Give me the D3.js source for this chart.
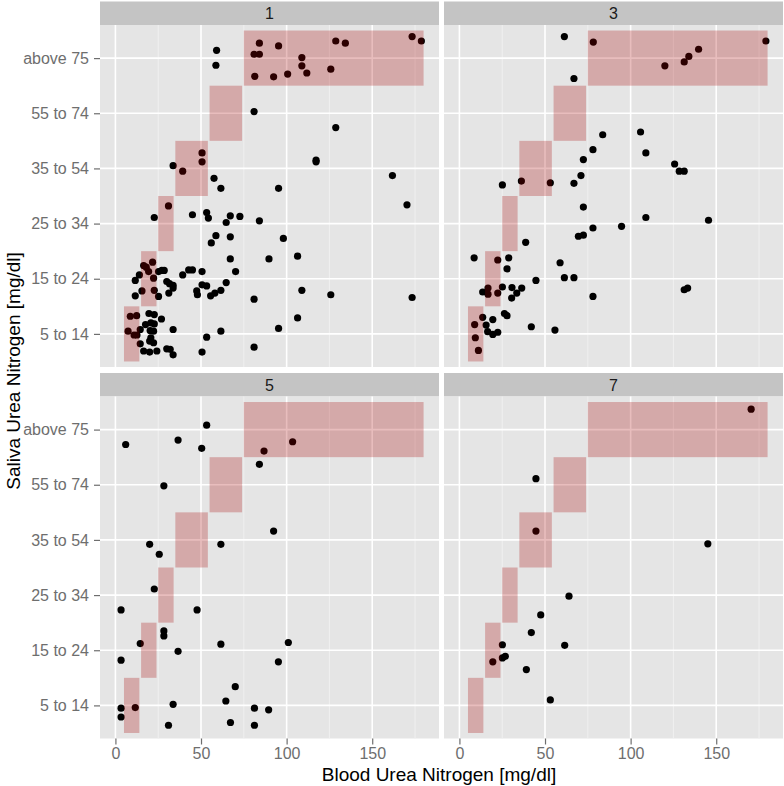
<!DOCTYPE html>
<html><head><meta charset="utf-8">
<script src="https://cdn.jsdelivr.net/npm/d3@7"></script>
<style>body{margin:0;background:#fff}svg{display:block;font-family:"Liberation Sans",Arial,sans-serif}</style>
</head><body><svg id="c" width="784" height="786"></svg>
<script>
const facets = ["1","3","5","7"];
const categories = ["5 to 14","15 to 24","25 to 34","35 to 54","55 to 74","above 75"];
const xTicks = [0,50,100,150];
const rectLow  = [5,15,25,35,55,75];
const rectHigh = [14,24,34,54,74,180];

const bun1 = [59.1,58.7,84.1,95.3,81.0,84.1,81.4,92.4,100.6,108.9,108.9,111.8,125.8,128.7,134.3,173.3,178.7,
81.0,128.7,
50.6,50.6,33.7,39.3,57.6,61.6,95.3,117.2,117.2,161.8,170.3,
31.0,22.7,45.0,53.3,54.3,67.1,72.7,64.7,84.1,58.7,56.0,67.1,98.1,67.1,89.7,106.4,70.2,
16.5,18.0,21.7,19.4,14.0,11.6,22.3,25.2,27.1,28.5,39.3,42.8,45.0,50.6,30.0,31.6,33.7,33.7,31.2,50.6,53.3,47.5,47.9,55.6,58.1,61.6,64.7,15.5,22.7,25.2,11.6,81.0,108.9,125.8,173.3,
8.7,12.4,7.4,10.9,12.6,14.5,14.5,19.6,22.7,26.9,17.6,20.7,22.7,20.3,22.3,20.7,20.0,22.3,16.5,20.0,24.2,30.0,32.0,33.7,33.7,53.3,61.6,50.6,81.0,95.3,106.4];
const san1 = [6.14,5.87,6.27,6.22,6.07,6.07,5.67,5.66,5.71,6.01,5.86,5.73,5.80,6.31,6.27,6.39,6.31,
5.03,4.74,
4.28,4.12,4.05,3.95,3.82,3.64,3.64,4.15,4.12,3.87,3.34,
3.32,3.11,3.16,3.20,3.10,3.14,3.13,3.02,3.05,2.78,2.65,2.76,2.73,2.36,2.36,2.41,2.13,
2.24,2.21,2.30,2.13,2.07,1.97,2.01,2.13,2.15,2.15,2.07,2.16,2.16,2.13,1.95,1.91,1.88,1.83,1.74,1.89,1.87,1.78,1.71,1.69,1.74,1.79,1.93,1.78,1.79,1.68,1.69,1.63,1.79,1.71,1.66,
1.32,1.33,1.05,0.98,0.98,1.08,0.82,1.37,1.35,1.27,1.17,1.20,1.18,1.06,1.05,0.93,0.87,0.84,0.69,0.67,0.69,0.73,0.72,0.62,1.08,0.94,1.05,0.67,0.76,1.10,1.29];

const bun3 = [61.3,78.2,179.0,139.7,134.0,131.3,120.0,66.9,83.7,105.8,78.0,108.9,72.4,125.7,128.4,131.3,71.0,66.9,53.1,36.2,25.1,72.4,108.9,145.5,94.7,78.0,69.5,72.4,38.7,8.6,22.4,28.8,27.8,58.8,61.3,66.9,44.7,78.0,131.3,133.3,13.6,16.7,16.7,22.4,25.1,30.7,33.5,36.4,30.5,13.6,19.5,26.3,27.8,8.9,15.6,16.5,19.5,22.4,42.0,55.8,9.3,11.1];
const san3 = [6.39,6.29,6.31,6.16,6.03,5.93,5.86,5.63,4.61,4.66,4.34,4.28,4.16,4.08,3.95,3.95,3.87,3.73,3.74,3.77,3.70,3.30,3.11,3.06,2.95,2.92,2.77,2.79,2.66,2.38,2.34,2.38,2.18,2.29,2.02,2.02,1.97,1.68,1.80,1.83,1.76,1.83,1.72,1.74,1.85,1.84,1.74,1.83,1.65,1.30,1.26,1.37,1.33,1.17,1.16,1.04,0.99,1.03,1.13,1.07,0.93,0.70];

const bun5 = [53.3,6.0,36.6,50.4,103.5,86.8,84.1,28.3,92.4,20.0,61.6,25.6,22.7,3.3,47.7,28.3,28.3,14.5,61.6,101.0,36.6,3.3,95.2,70.0,64.5,33.7,11.6,3.3,3.3,81.2,89.5,67.2,81.2,31.0];
const san5 = [6.08,5.73,5.81,5.66,5.78,5.61,5.37,4.98,4.16,3.92,3.92,3.74,3.11,2.73,2.73,2.35,2.26,2.12,2.11,2.14,1.98,1.82,1.79,1.34,1.08,1.02,0.96,0.95,0.79,0.95,0.92,0.69,0.64,0.64];

const bun7 = [170.4,44.7,44.7,145.1,64.0,47.5,42.0,25.1,61.5,26.8,25.1,19.5,39.1,53.1];
const san7 = [6.37,5.11,4.16,3.93,2.98,2.64,2.32,2.10,2.09,1.89,1.86,1.79,1.65,1.10];

const bunByFacet = [bun1,bun3,bun5,bun7];
const sanByFacet = [san1,san3,san5,san7];

const svg = d3.select("#c");
const colL = [100,439], colR = [444,783];
const rows = [{strip:[1.5,25], panel:[25,367]},{strip:[373,396.5], panel:[396.5,738.5]}];
const cols = [colL, colR];

const tickCol = "#6e6e6e";
const rects = categories.map((c,i)=>({lo:rectLow[i], hi:rectHigh[i], cat:i+1}));

facets.forEach((f,fi)=>{
  const r = rows[Math.floor(fi/2)], c = cols[fi%2];
  const x = d3.scaleLinear().domain([-9,189]).range(c);
  const y = d3.scaleLinear().domain([0.4,6.6]).range([r.panel[1], r.panel[0]]);
  const g = svg.append("g");
  g.append("rect").attr("x",c[0]).attr("y",r.strip[0]).attr("width",c[1]-c[0]).attr("height",r.strip[1]-r.strip[0]).attr("fill","#c4c4c4");
  g.append("text").attr("x",(c[0]+c[1])/2).attr("y",(r.strip[0]+r.strip[1])/2+6).attr("text-anchor","middle")
    .attr("font-size",16).attr("fill","#1a1a1a").text(f);
  g.append("rect").attr("x",c[0]).attr("y",r.panel[0]).attr("width",c[1]-c[0]).attr("height",r.panel[1]-r.panel[0]).attr("fill","#e5e5e5");
  g.selectAll(".mn").data([25,75,125,175]).join("line")
    .attr("x1",d=>x(d)).attr("x2",d=>x(d)).attr("y1",r.panel[0]).attr("y2",r.panel[1])
    .attr("stroke","#f2f2f2").attr("stroke-width",0.8);
  g.selectAll(".mx").data(xTicks).join("line")
    .attr("x1",d=>x(d)).attr("x2",d=>x(d)).attr("y1",r.panel[0]).attr("y2",r.panel[1])
    .attr("stroke","#fff").attr("stroke-width",1.6);
  g.selectAll(".my").data(categories).join("line")
    .attr("x1",c[0]).attr("x2",c[1]).attr("y1",(d,i)=>y(i+1)).attr("y2",(d,i)=>y(i+1))
    .attr("stroke","#fff").attr("stroke-width",1.6);
  const pts = bunByFacet[fi].map((b,i)=>({b, s:sanByFacet[fi][i]}));
  g.selectAll(".pt").data(pts).join("circle")
    .attr("cx",d=>x(d.b)).attr("cy",d=>y(d.s)).attr("r",3.6).attr("fill","#000");
  g.selectAll(".rc").data(rects).join("rect")
    .attr("x",d=>x(d.lo)).attr("width",d=>x(d.hi)-x(d.lo))
    .attr("y",d=>y(d.cat+0.5)).attr("height",d=>y(d.cat-0.5)-y(d.cat+0.5))
    .attr("fill","#a70000").attr("fill-opacity",0.26);
  if (fi%2===0){
    const ay = g.append("g").attr("transform",`translate(${c[0]},0)`)
      .call(d3.axisLeft(y).tickValues([1,2,3,4,5,6]).tickFormat(d=>categories[d-1]).tickSize(6).tickPadding(5));
    ay.select(".domain").remove();
    ay.selectAll("line").attr("stroke",tickCol).attr("stroke-width",1.2);
    ay.selectAll("text").attr("font-size",16).attr("fill",tickCol).attr("font-family","Liberation Sans, Arial, sans-serif");
  }
  if (fi>=2){
    const ax = g.append("g").attr("transform",`translate(0,${r.panel[1]})`)
      .call(d3.axisBottom(x).tickValues(xTicks).tickSize(6).tickPadding(3));
    ax.select(".domain").remove();
    ax.selectAll("line").attr("stroke",tickCol).attr("stroke-width",1.2);
    ax.selectAll("text").attr("font-size",16).attr("fill",tickCol).attr("font-family","Liberation Sans, Arial, sans-serif");
  }
});

svg.append("text").attr("x",439).attr("y",781).attr("text-anchor","middle").attr("font-size",19).attr("fill","#000")
  .text("Blood Urea Nitrogen [mg/dl]");
svg.append("text").attr("transform","translate(20,371) rotate(-90)").attr("text-anchor","middle").attr("font-size",19).attr("fill","#000")
  .text("Saliva Urea Nitrogen [mg/dl]");
</script></body></html>
